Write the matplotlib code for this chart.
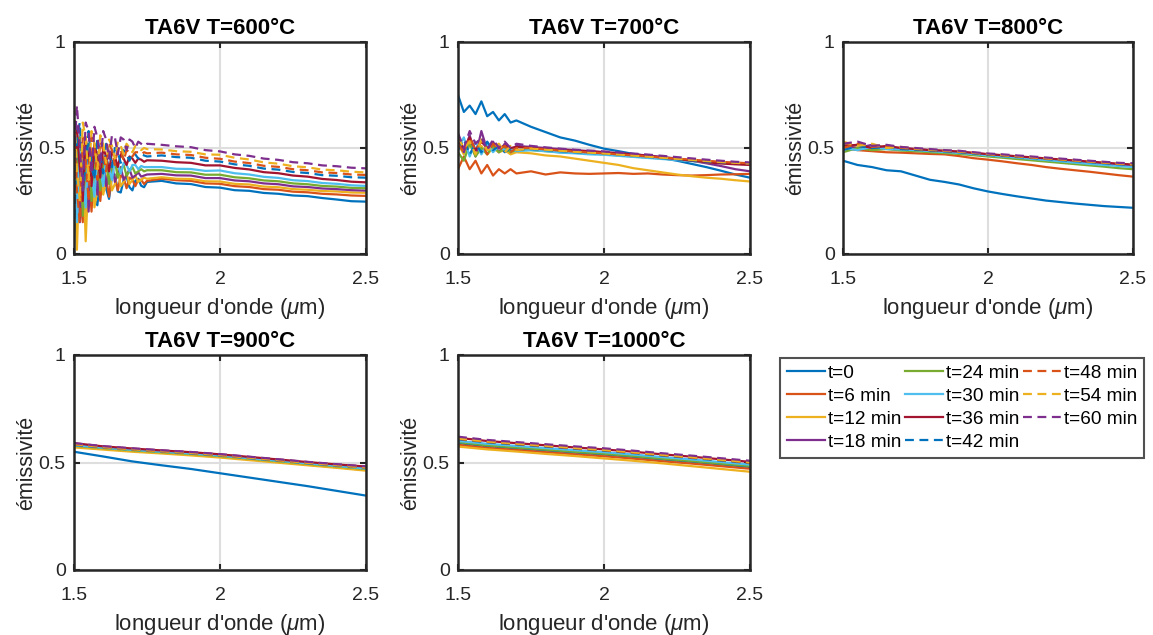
import matplotlib
matplotlib.use("Agg")
import matplotlib.pyplot as plt
import numpy as np

plt.rcParams['font.family'] = ['Liberation Sans', 'DejaVu Sans']
plt.rcParams['mathtext.fontset'] = 'custom'
plt.rcParams['mathtext.rm'] = 'Liberation Sans'
plt.rcParams['mathtext.it'] = 'Liberation Sans:italic'

# ---------------- data ----------------
labels = ["t=0", "t=6 min", "t=12 min", "t=18 min", "t=24 min", "t=30 min",
          "t=36 min", "t=42 min", "t=48 min", "t=54 min", "t=60 min"]
titles = ["TA6V T=600°C", "TA6V T=700°C", "TA6V T=800°C", "TA6V T=900°C", "TA6V T=1000°C"]

# wavelength grids (um)
wl_600 = [1.50, 1.51, 1.52, 1.53, 1.54, 1.55, 1.56, 1.57, 1.58, 1.59, 1.60, 1.61, 1.62,
          1.63, 1.64, 1.65, 1.66, 1.67, 1.68, 1.69, 1.70, 1.71, 1.72, 1.73, 1.74, 1.75,
          1.80, 1.85, 1.90, 1.95, 2.00, 2.05, 2.10, 2.15, 2.20, 2.25, 2.30, 2.35, 2.40, 2.45, 2.50]
wl_700 = [1.50, 1.52, 1.54, 1.56, 1.58, 1.60, 1.62, 1.64, 1.66, 1.68, 1.70,
          1.75, 1.80, 1.85, 1.90, 1.95, 2.00, 2.05, 2.10, 2.15, 2.20, 2.25, 2.30, 2.35, 2.40, 2.45, 2.50]
wl_800 = [1.50, 1.55, 1.60, 1.65, 1.70, 1.75, 1.80, 1.85, 1.90, 1.95, 2.00,
          2.05, 2.10, 2.15, 2.20, 2.25, 2.30, 2.35, 2.40, 2.45, 2.50]
wl_900 = [1.5, 1.6, 1.7, 1.8, 1.9, 2.0, 2.1, 2.2, 2.3, 2.4, 2.5]
wl_1000 = [1.5, 1.6, 1.7, 1.8, 1.9, 2.0, 2.1, 2.2, 2.3, 2.4, 2.5]

# T = 600 C
e600_t0 = [0.05, 0.46, 0.55, 0.23, 0.15, 0.435, 0.46, 0.258, 0.23, 0.366, 0.41, 0.309, 0.26,
           0.366, 0.375, 0.295, 0.29, 0.35, 0.365, 0.315, 0.30, 0.345, 0.355, 0.322, 0.315, 0.34,
           0.345, 0.333, 0.330, 0.316, 0.313, 0.301, 0.298, 0.288, 0.284, 0.276, 0.273, 0.264, 0.257, 0.249, 0.247]
e600_t6 = [0.12, 0.58, 0.30, 0.15, 0.48, 0.40, 0.20, 0.44, 0.37, 0.25, 0.40, 0.36, 0.27,
           0.38, 0.36, 0.30, 0.37, 0.36, 0.31, 0.36, 0.35, 0.32, 0.35, 0.35, 0.33, 0.345,
           0.355, 0.348, 0.345, 0.333, 0.331, 0.320, 0.316, 0.306, 0.303, 0.294, 0.291, 0.284, 0.281, 0.276, 0.274]
e600_t12 = [0.55, 0.02, 0.45, 0.50, 0.06, 0.38, 0.48, 0.22, 0.30, 0.45, 0.28, 0.34, 0.42,
            0.30, 0.33, 0.40, 0.32, 0.34, 0.38, 0.33, 0.35, 0.37, 0.34, 0.35, 0.36, 0.355,
            0.362, 0.355, 0.354, 0.343, 0.342, 0.331, 0.328, 0.318, 0.315, 0.306, 0.303, 0.297, 0.295, 0.290, 0.289]
e600_t18 = [0.30, 0.60, 0.15, 0.40, 0.55, 0.20, 0.45, 0.50, 0.28, 0.42, 0.45, 0.32, 0.40,
            0.43, 0.34, 0.38, 0.41, 0.35, 0.37, 0.40, 0.36, 0.37, 0.385, 0.365, 0.37, 0.375,
            0.378, 0.371, 0.370, 0.358, 0.358, 0.347, 0.343, 0.333, 0.329, 0.319, 0.316, 0.309, 0.306, 0.301, 0.299]
e600_t24 = [0.20, 0.45, 0.55, 0.18, 0.42, 0.52, 0.25, 0.40, 0.48, 0.30, 0.42, 0.45, 0.33,
            0.41, 0.44, 0.36, 0.40, 0.42, 0.37, 0.39, 0.41, 0.38, 0.39, 0.40, 0.39, 0.395,
            0.395, 0.386, 0.385, 0.374, 0.374, 0.362, 0.357, 0.347, 0.343, 0.333, 0.329, 0.321, 0.318, 0.312, 0.310]
e600_t30 = [0.45, 0.15, 0.50, 0.35, 0.22, 0.50, 0.38, 0.27, 0.48, 0.40, 0.32, 0.46, 0.41,
            0.35, 0.44, 0.42, 0.38, 0.43, 0.42, 0.39, 0.42, 0.42, 0.40, 0.415, 0.41, 0.41,
            0.410, 0.402, 0.401, 0.392, 0.394, 0.381, 0.375, 0.364, 0.359, 0.348, 0.344, 0.335, 0.331, 0.324, 0.321]
e600_t36 = [0.35, 0.58, 0.40, 0.25, 0.55, 0.45, 0.32, 0.52, 0.46, 0.36, 0.50, 0.46, 0.39,
            0.48, 0.46, 0.41, 0.47, 0.45, 0.42, 0.46, 0.45, 0.43, 0.45, 0.445, 0.435, 0.442,
            0.440, 0.433, 0.430, 0.418, 0.418, 0.406, 0.399, 0.386, 0.381, 0.370, 0.365, 0.354, 0.349, 0.341, 0.338]
e600_t42 = [0.10, 0.55, 0.62, 0.30, 0.40, 0.58, 0.42, 0.35, 0.55, 0.47, 0.38, 0.52, 0.48,
            0.41, 0.50, 0.48, 0.43, 0.49, 0.47, 0.44, 0.48, 0.47, 0.45, 0.47, 0.465, 0.46,
            0.465, 0.457, 0.454, 0.440, 0.436, 0.423, 0.416, 0.403, 0.398, 0.387, 0.382, 0.372, 0.369, 0.362, 0.360]
e600_t48 = [0.60, 0.30, 0.15, 0.55, 0.45, 0.25, 0.55, 0.50, 0.35, 0.53, 0.49, 0.39, 0.52,
            0.49, 0.42, 0.50, 0.49, 0.44, 0.49, 0.48, 0.46, 0.48, 0.48, 0.47, 0.48, 0.475,
            0.478, 0.470, 0.467, 0.454, 0.449, 0.436, 0.429, 0.416, 0.411, 0.400, 0.395, 0.385, 0.382, 0.375, 0.373]
e600_t54 = [0.70, 0.40, 0.25, 0.62, 0.55, 0.35, 0.58, 0.52, 0.40, 0.56, 0.52, 0.43, 0.54,
            0.51, 0.45, 0.53, 0.51, 0.47, 0.52, 0.50, 0.48, 0.51, 0.50, 0.49, 0.50, 0.495,
            0.493, 0.485, 0.482, 0.470, 0.468, 0.454, 0.446, 0.432, 0.426, 0.414, 0.409, 0.398, 0.395, 0.388, 0.385]
e600_t60 = [0.45, 0.70, 0.50, 0.30, 0.62, 0.58, 0.38, 0.60, 0.55, 0.42, 0.58, 0.54, 0.45,
            0.56, 0.55, 0.47, 0.55, 0.54, 0.49, 0.54, 0.53, 0.50, 0.53, 0.52, 0.51, 0.52,
            0.515, 0.508, 0.504, 0.490, 0.484, 0.470, 0.463, 0.450, 0.444, 0.433, 0.428, 0.418, 0.414, 0.407, 0.404]

# T = 700 C
e700_t0 = [0.75, 0.67, 0.70, 0.66, 0.72, 0.65, 0.67, 0.63, 0.66, 0.62, 0.63,
           0.60, 0.575, 0.55, 0.535, 0.515, 0.497, 0.485, 0.472, 0.462, 0.452, 0.44, 0.425, 0.41, 0.393, 0.375, 0.36]
e700_t6 = [0.40, 0.46, 0.40, 0.44, 0.38, 0.42, 0.37, 0.40, 0.38, 0.40, 0.38,
           0.39, 0.375, 0.385, 0.38, 0.378, 0.38, 0.382, 0.378, 0.38, 0.375, 0.372, 0.37, 0.372, 0.375, 0.376, 0.378]
e700_t12 = [0.52, 0.47, 0.53, 0.48, 0.51, 0.47, 0.50, 0.48, 0.49, 0.47, 0.48,
            0.475, 0.465, 0.46, 0.45, 0.44, 0.43, 0.42, 0.405, 0.395, 0.385, 0.375, 0.367, 0.36, 0.355, 0.348, 0.342]
e700_t18 = [0.55, 0.48, 0.56, 0.46, 0.58, 0.49, 0.53, 0.48, 0.52, 0.49, 0.51,
            0.505, 0.50, 0.495, 0.49, 0.485, 0.48, 0.475, 0.47, 0.465, 0.458, 0.45, 0.44, 0.428, 0.415, 0.40, 0.39]
e700_t24 = [0.48, 0.44, 0.52, 0.46, 0.50, 0.47, 0.51, 0.48, 0.50, 0.48, 0.49,
            0.49, 0.485, 0.48, 0.478, 0.475, 0.47, 0.465, 0.46, 0.455, 0.45, 0.445, 0.44, 0.435, 0.43, 0.427, 0.425]
e700_t30 = [0.50, 0.55, 0.46, 0.53, 0.47, 0.52, 0.48, 0.51, 0.49, 0.50, 0.485,
            0.49, 0.485, 0.478, 0.475, 0.47, 0.468, 0.463, 0.458, 0.453, 0.448, 0.443, 0.438, 0.433, 0.43, 0.427, 0.425]
e700_t36 = [0.53, 0.50, 0.55, 0.49, 0.53, 0.50, 0.52, 0.50, 0.51, 0.50, 0.505,
            0.50, 0.495, 0.49, 0.487, 0.485, 0.48, 0.475, 0.47, 0.463, 0.455, 0.448, 0.44, 0.433, 0.427, 0.423, 0.42]
e700_t42 = [0.49, 0.54, 0.47, 0.52, 0.48, 0.53, 0.49, 0.51, 0.48, 0.50, 0.49,
            0.495, 0.49, 0.485, 0.48, 0.477, 0.473, 0.468, 0.463, 0.458, 0.452, 0.447, 0.442, 0.437, 0.433, 0.43, 0.427]
e700_t48 = [0.52, 0.48, 0.55, 0.49, 0.53, 0.47, 0.52, 0.49, 0.51, 0.48, 0.50,
            0.50, 0.493, 0.488, 0.483, 0.479, 0.475, 0.47, 0.465, 0.46, 0.455, 0.45, 0.445, 0.44, 0.435, 0.431, 0.428]
e700_t54 = [0.55, 0.50, 0.53, 0.47, 0.54, 0.49, 0.50, 0.52, 0.48, 0.51, 0.49,
            0.497, 0.492, 0.487, 0.482, 0.478, 0.474, 0.469, 0.464, 0.459, 0.454, 0.449, 0.444, 0.439, 0.434, 0.43, 0.427]
e700_t60 = [0.57, 0.50, 0.58, 0.52, 0.55, 0.49, 0.54, 0.50, 0.53, 0.50, 0.52,
            0.51, 0.503, 0.497, 0.492, 0.488, 0.484, 0.479, 0.474, 0.469, 0.463, 0.457, 0.451, 0.445, 0.44, 0.435, 0.432]

# T = 800 C
e800_t0 = [0.44, 0.42, 0.41, 0.395, 0.39, 0.37, 0.35, 0.34, 0.328, 0.31, 0.295,
           0.283, 0.272, 0.262, 0.252, 0.245, 0.238, 0.232, 0.226, 0.222, 0.218]
e800_t6 = [0.50, 0.49, 0.485, 0.48, 0.478, 0.475, 0.472, 0.47, 0.462, 0.452, 0.445,
           0.437, 0.428, 0.42, 0.41, 0.402, 0.395, 0.388, 0.38, 0.372, 0.365]
e800_t12 = [0.52, 0.50, 0.51, 0.505, 0.497, 0.492, 0.488, 0.484, 0.48, 0.474, 0.468,
            0.462, 0.456, 0.45, 0.444, 0.439, 0.434, 0.429, 0.424, 0.419, 0.415]
e800_t18 = [0.51, 0.50, 0.515, 0.50, 0.50, 0.495, 0.49, 0.486, 0.482, 0.476, 0.47,
            0.465, 0.46, 0.454, 0.448, 0.442, 0.437, 0.432, 0.427, 0.422, 0.418]
e800_t24 = [0.48, 0.50, 0.49, 0.495, 0.488, 0.485, 0.48, 0.476, 0.472, 0.466, 0.46,
            0.454, 0.448, 0.442, 0.436, 0.43, 0.424, 0.418, 0.412, 0.405, 0.40]
e800_t30 = [0.50, 0.49, 0.505, 0.495, 0.493, 0.49, 0.485, 0.481, 0.477, 0.471, 0.465,
            0.46, 0.455, 0.449, 0.443, 0.437, 0.431, 0.425, 0.42, 0.415, 0.41]
e800_t36 = [0.51, 0.515, 0.50, 0.51, 0.50, 0.495, 0.49, 0.487, 0.483, 0.477, 0.471,
            0.466, 0.461, 0.456, 0.451, 0.446, 0.441, 0.436, 0.431, 0.426, 0.422]
e800_t42 = [0.49, 0.51, 0.50, 0.505, 0.495, 0.492, 0.488, 0.484, 0.48, 0.474, 0.468,
            0.463, 0.458, 0.453, 0.448, 0.443, 0.438, 0.433, 0.428, 0.423, 0.419]
e800_t48 = [0.50, 0.52, 0.505, 0.51, 0.50, 0.495, 0.49, 0.486, 0.482, 0.476, 0.47,
            0.465, 0.46, 0.455, 0.45, 0.445, 0.44, 0.435, 0.43, 0.425, 0.421]
e800_t54 = [0.53, 0.51, 0.52, 0.50, 0.505, 0.497, 0.492, 0.488, 0.484, 0.478, 0.472,
            0.467, 0.462, 0.457, 0.452, 0.447, 0.442, 0.437, 0.432, 0.427, 0.424]
e800_t60 = [0.52, 0.53, 0.51, 0.515, 0.505, 0.50, 0.495, 0.49, 0.487, 0.48, 0.474,
            0.47, 0.465, 0.46, 0.455, 0.45, 0.445, 0.44, 0.435, 0.43, 0.428]

# T = 900 C
e900_t0 = [0.55, 0.528, 0.505, 0.487, 0.47, 0.45, 0.43, 0.41, 0.39, 0.368, 0.346]
e900_t6 = [0.575, 0.565, 0.555, 0.545, 0.537, 0.527, 0.515, 0.503, 0.49, 0.478, 0.465]
e900_t12 = [0.57, 0.56, 0.55, 0.542, 0.533, 0.523, 0.511, 0.499, 0.487, 0.475, 0.462]
e900_t18 = [0.585, 0.572, 0.562, 0.553, 0.545, 0.535, 0.523, 0.511, 0.499, 0.488, 0.478]
e900_t24 = [0.578, 0.567, 0.557, 0.548, 0.54, 0.53, 0.518, 0.506, 0.494, 0.482, 0.47]
e900_t30 = [0.58, 0.569, 0.559, 0.55, 0.542, 0.532, 0.52, 0.508, 0.496, 0.484, 0.472]
e900_t36 = [0.59, 0.575, 0.565, 0.556, 0.548, 0.538, 0.526, 0.514, 0.502, 0.491, 0.481]
e900_t42 = [0.582, 0.57, 0.56, 0.551, 0.543, 0.533, 0.521, 0.509, 0.497, 0.486, 0.475]
e900_t48 = [0.584, 0.571, 0.561, 0.552, 0.544, 0.534, 0.522, 0.51, 0.498, 0.487, 0.476]
e900_t54 = [0.586, 0.572, 0.562, 0.553, 0.545, 0.535, 0.523, 0.511, 0.499, 0.488, 0.477]
e900_t60 = [0.59, 0.576, 0.566, 0.557, 0.549, 0.539, 0.527, 0.515, 0.503, 0.492, 0.482]

# T = 1000 C
e1000_t0 = [0.59, 0.576, 0.566, 0.556, 0.546, 0.537, 0.526, 0.514, 0.503, 0.491, 0.479]
e1000_t6 = [0.582, 0.568, 0.558, 0.548, 0.538, 0.529, 0.518, 0.506, 0.495, 0.483, 0.471]
e1000_t12 = [0.574, 0.561, 0.551, 0.54, 0.53, 0.519, 0.508, 0.496, 0.483, 0.47, 0.457]
e1000_t18 = [0.598, 0.584, 0.574, 0.564, 0.554, 0.545, 0.534, 0.522, 0.511, 0.499, 0.487]
e1000_t24 = [0.595, 0.58, 0.57, 0.56, 0.55, 0.541, 0.53, 0.518, 0.507, 0.495, 0.484]
e1000_t30 = [0.60, 0.587, 0.577, 0.567, 0.557, 0.548, 0.537, 0.525, 0.514, 0.502, 0.49]
e1000_t36 = [0.615, 0.60, 0.59, 0.58, 0.57, 0.561, 0.55, 0.538, 0.527, 0.515, 0.503]
e1000_t42 = [0.608, 0.594, 0.584, 0.574, 0.564, 0.555, 0.544, 0.532, 0.521, 0.509, 0.497]
e1000_t48 = [0.61, 0.596, 0.586, 0.576, 0.566, 0.557, 0.546, 0.534, 0.523, 0.511, 0.499]
e1000_t54 = [0.612, 0.598, 0.588, 0.578, 0.568, 0.559, 0.548, 0.536, 0.525, 0.513, 0.501]
e1000_t60 = [0.62, 0.605, 0.595, 0.585, 0.575, 0.566, 0.555, 0.543, 0.532, 0.52, 0.508]

panels = [
    (wl_600, [e600_t0, e600_t6, e600_t12, e600_t18, e600_t24, e600_t30, e600_t36,
              e600_t42, e600_t48, e600_t54, e600_t60]),
    (wl_700, [e700_t0, e700_t6, e700_t12, e700_t18, e700_t24, e700_t30, e700_t36,
              e700_t42, e700_t48, e700_t54, e700_t60]),
    (wl_800, [e800_t0, e800_t6, e800_t12, e800_t18, e800_t24, e800_t30, e800_t36,
              e800_t42, e800_t48, e800_t54, e800_t60]),
    (wl_900, [e900_t0, e900_t6, e900_t12, e900_t18, e900_t24, e900_t30, e900_t36,
              e900_t42, e900_t48, e900_t54, e900_t60]),
    (wl_1000, [e1000_t0, e1000_t6, e1000_t12, e1000_t18, e1000_t24, e1000_t30, e1000_t36,
               e1000_t42, e1000_t48, e1000_t54, e1000_t60]),
]

x_ticks = [1.5, 2, 2.5]
x_ticklabels = ["1.5", "2", "2.5"]
y_ticks = [0, 0.5, 1]
y_ticklabels = ["0", "0.5", "1"]

# ---------------- style ----------------
colors = ["#0072BD", "#D95319", "#EDB120", "#7E2F8E", "#77AC30", "#4DBEEE", "#A2142F",
          "#0072BD", "#D95319", "#EDB120", "#7E2F8E"]
styles = ["-"] * 7 + ["--"] * 4

W, H = 1153, 635
fig = plt.figure(figsize=(W / 100, H / 100), dpi=100)

# axes boxes in pixels: (left, top, right, bottom)
boxes = [(74, 42, 366, 254), (458, 42, 750, 254), (843, 42, 1133, 254),
         (74, 355, 366, 570), (458, 355, 750, 570)]

axc = "#262626"
handles = []
for k, ((wl, series), box) in enumerate(zip(panels, boxes)):
    l, t, r, b = box
    ax = fig.add_axes([l / W, 1 - b / H, (r - l) / W, (b - t) / H])
    for i, y in enumerate(series):
        ln, = ax.plot(wl, y, color=colors[i], linestyle=styles[i], linewidth=1.6,
                      dashes=(4, 2.5) if styles[i] == "--" else (None, None),
                      label=labels[i])
        if k == 0:
            handles.append(ln)
    ax.set_xlim(1.5, 2.5)
    ax.set_ylim(0, 1)
    ax.set_xticks(x_ticks)
    ax.set_xticklabels(x_ticklabels)
    ax.set_yticks(y_ticks)
    ax.set_yticklabels(y_ticklabels)
    ax.grid(True, color="#dedede", linewidth=1.5)
    ax.set_axisbelow(True)
    ax.tick_params(direction="in", length=4, width=1.5, colors=axc, labelsize=14,
                   top=True, right=True)
    ax.tick_params(axis="x", pad=12)
    ax.tick_params(axis="y", pad=6)
    for sp in ax.spines.values():
        sp.set_linewidth(1.8)
        sp.set_color(axc)
    ax.set_title(titles[k], fontsize=16, fontweight="bold", color="black", pad=6)
    ax.set_xlabel("longueur d'onde ($\\mu$m)", fontsize=16, color=axc, labelpad=6)
    ax.set_ylabel("émissivité", fontsize=15.5, color=axc, labelpad=1)

leg = fig.legend(handles=handles, labels=labels, ncol=3, loc="upper left",
                 bbox_to_anchor=(780 / W, 1 - 358 / H), fontsize=13.7,
                 frameon=True, fancybox=False, edgecolor=axc, borderaxespad=0,
                 handlelength=2.0, handletextpad=0.15, columnspacing=0.2,
                 labelspacing=0.3, borderpad=0.35)
leg.get_frame().set_linewidth(1.5)

fig.savefig("out.png", dpi=100)
